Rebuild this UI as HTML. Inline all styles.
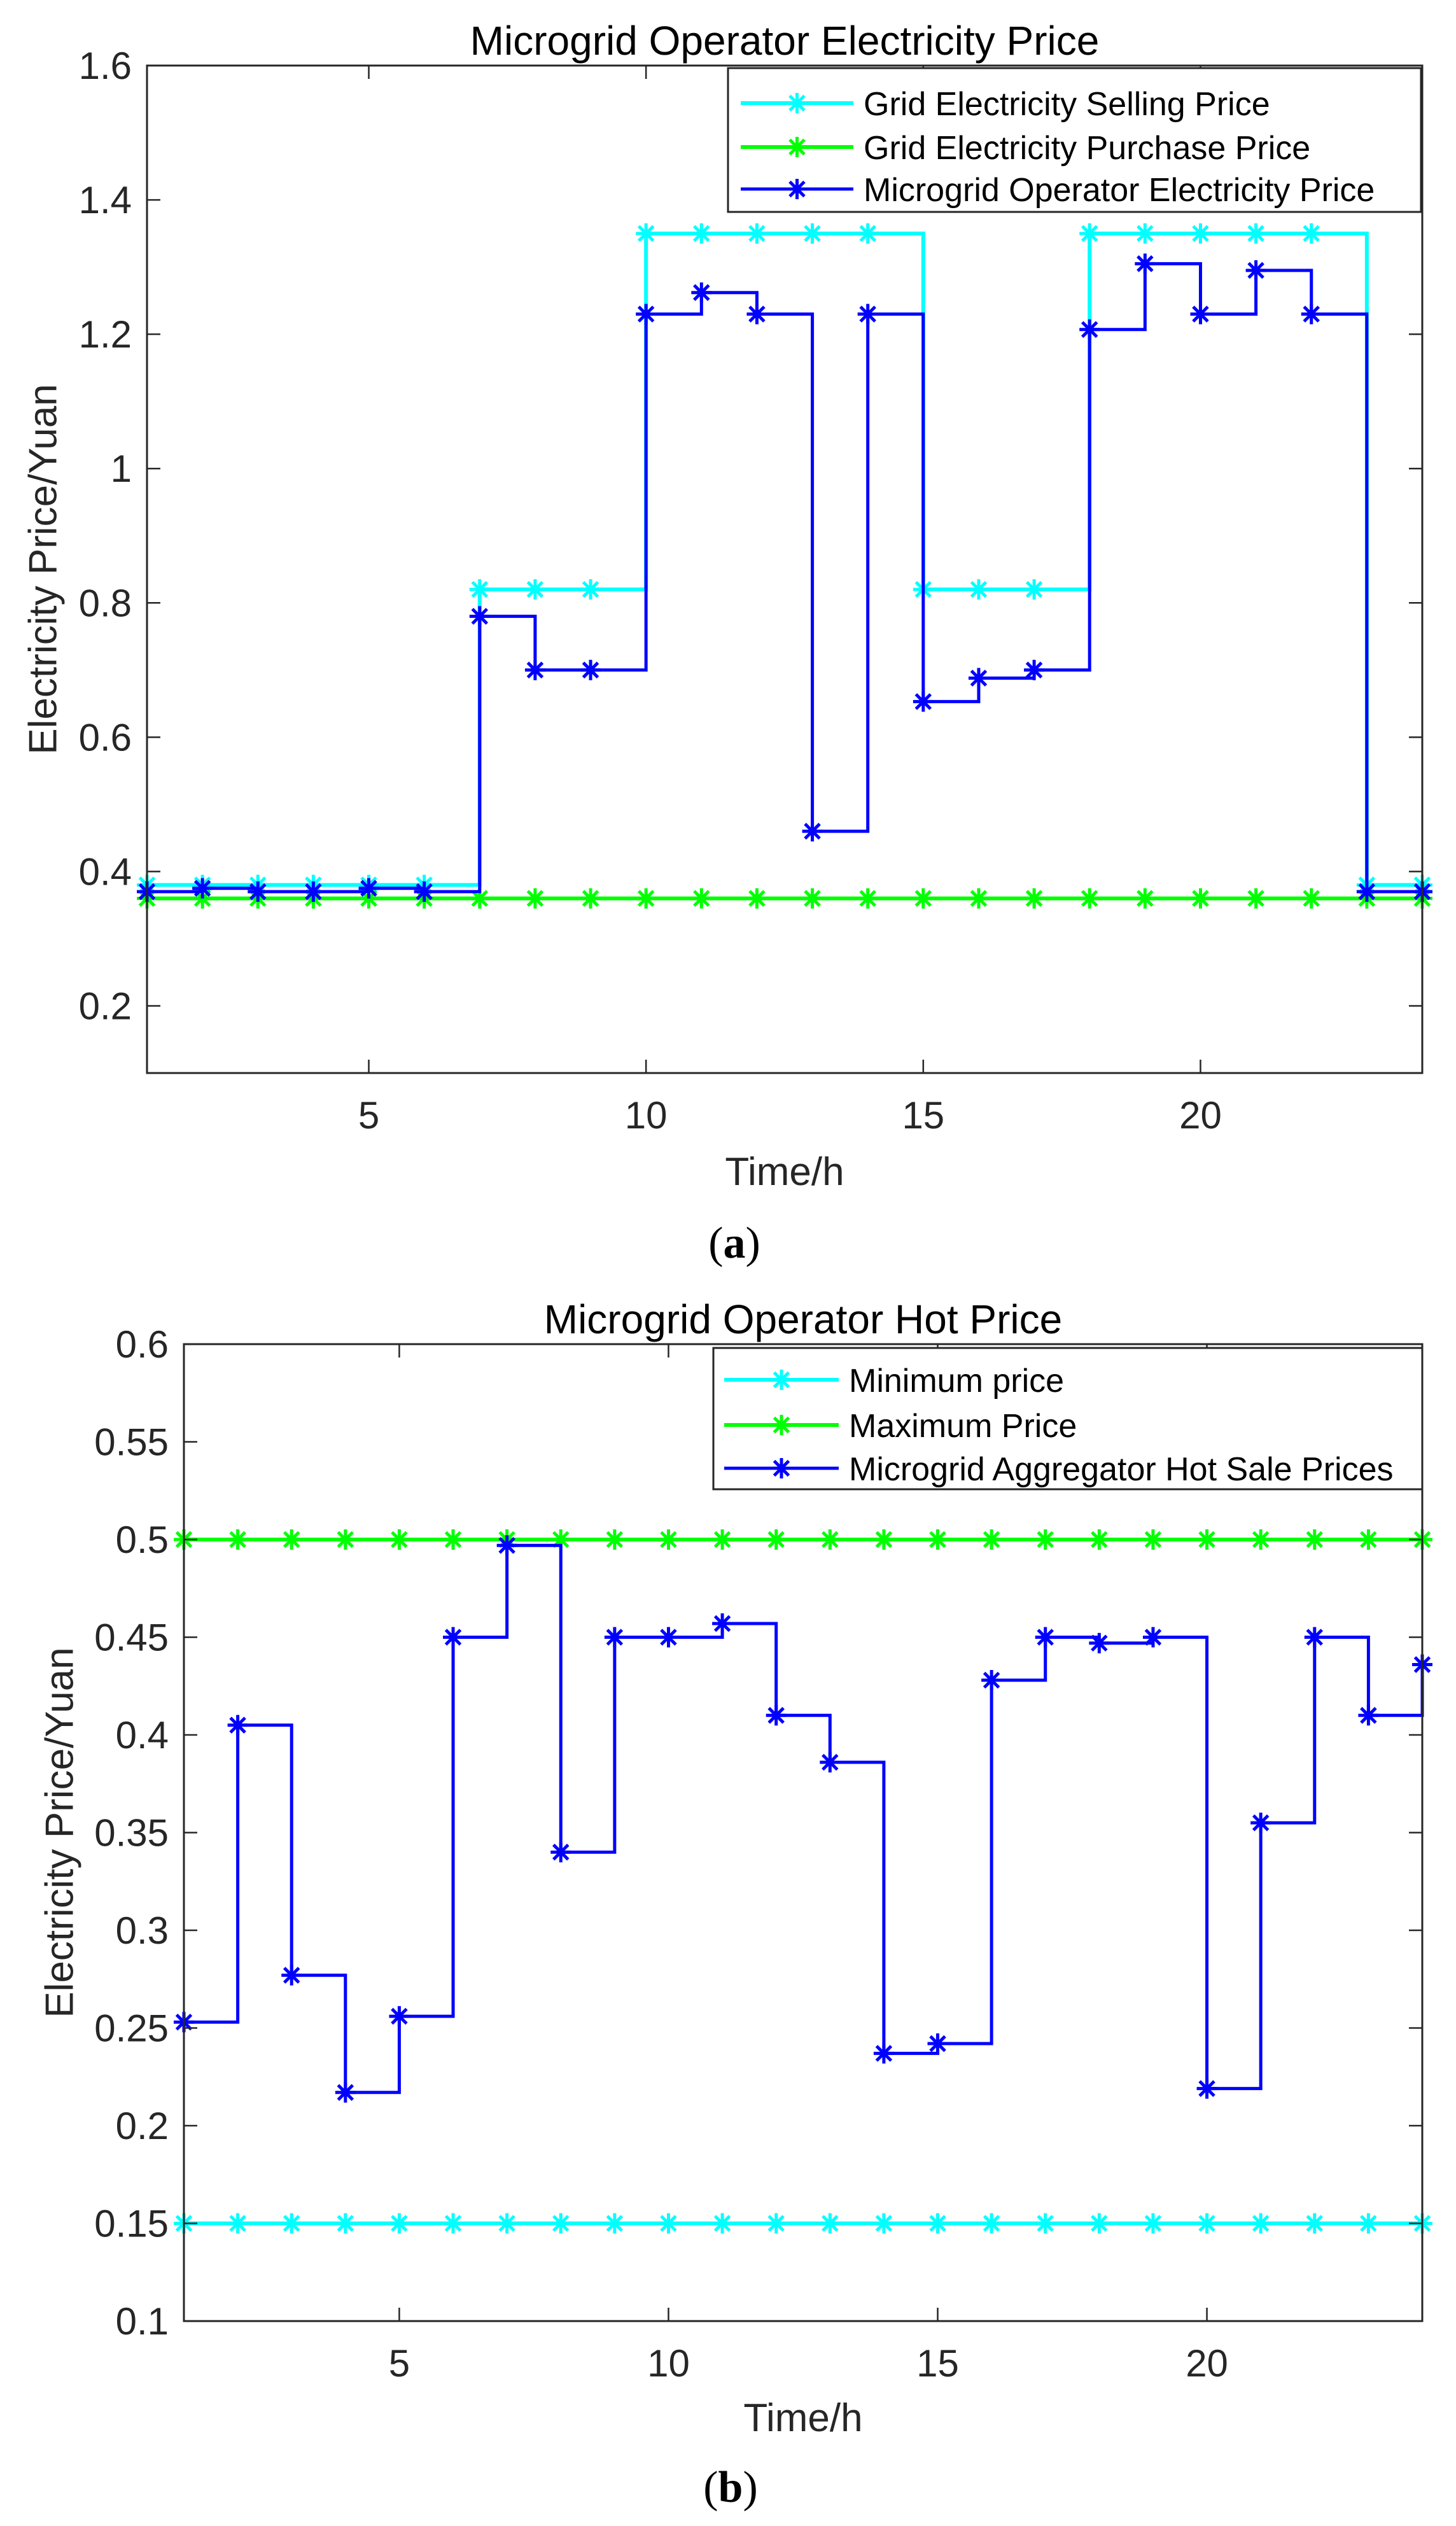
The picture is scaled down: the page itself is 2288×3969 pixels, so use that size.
<!DOCTYPE html>
<html>
<head>
<meta charset="utf-8">
<style>
html,body{margin:0;padding:0;background:#fff;}
svg{display:block;}
text{font-family:"Liberation Sans",Arial,sans-serif;fill:#262626;}
</style>
</head>
<body>
<svg id="fig" width="2288" height="3969" viewBox="0 0 2288 3969" xmlns="http://www.w3.org/2000/svg">
<rect x="0" y="0" width="2288" height="3969" fill="#fff"/>
<g id="chartA"></g>
<g id="chartB"></g>
</svg>
<script>
// ---- Chart (a) data ----
const hoursA = [1,2,3,4,5,6,7,8,9,10,11,12,13,14,15,16,17,18,19,20,21,22,23,24];
const gridSellA = [0.38,0.38,0.38,0.38,0.38,0.38,0.82,0.82,0.82,1.35,1.35,1.35,1.35,1.35,0.82,0.82,0.82,1.35,1.35,1.35,1.35,1.35,0.38,0.38];
const gridBuyA = [0.36,0.36,0.36,0.36,0.36,0.36,0.36,0.36,0.36,0.36,0.36,0.36,0.36,0.36,0.36,0.36,0.36,0.36,0.36,0.36,0.36,0.36,0.36,0.36];
const operatorA = [0.37,0.375,0.37,0.37,0.375,0.37,0.78,0.70,0.70,1.23,1.262,1.23,0.46,1.23,0.653,0.688,0.70,1.207,1.305,1.23,1.295,1.23,0.37,0.37];
const yTicksA = [0.2,0.4,0.6,0.8,1,1.2,1.4,1.6];
const yTickLabelsA = ["0.2","0.4","0.6","0.8","1","1.2","1.4","1.6"];
const xTicksA = [5,10,15,20];
const legendA = ["Grid Electricity Selling Price","Grid Electricity Purchase Price","Microgrid Operator Electricity Price"];

// ---- Chart (b) data ----
const hoursB = [1,2,3,4,5,6,7,8,9,10,11,12,13,14,15,16,17,18,19,20,21,22,23,24];
const minPriceB = [0.15,0.15,0.15,0.15,0.15,0.15,0.15,0.15,0.15,0.15,0.15,0.15,0.15,0.15,0.15,0.15,0.15,0.15,0.15,0.15,0.15,0.15,0.15,0.15];
const maxPriceB = [0.5,0.5,0.5,0.5,0.5,0.5,0.5,0.5,0.5,0.5,0.5,0.5,0.5,0.5,0.5,0.5,0.5,0.5,0.5,0.5,0.5,0.5,0.5,0.5];
const hotPriceB = [0.253,0.405,0.277,0.217,0.256,0.45,0.497,0.34,0.45,0.45,0.457,0.41,0.386,0.237,0.242,0.428,0.45,0.447,0.45,0.219,0.355,0.45,0.41,0.436];
const yTicksB = [0.1,0.15,0.2,0.25,0.3,0.35,0.4,0.45,0.5,0.55,0.6];
const yTickLabelsB = ["0.1","0.15","0.2","0.25","0.3","0.35","0.4","0.45","0.5","0.55","0.6"];
const xTicksB = [5,10,15,20];
const legendB = ["Minimum price","Maximum Price","Microgrid Aggregator Hot Sale Prices"];

const NS = "http://www.w3.org/2000/svg";
function mk(parent, tag, attrs, txt){
  const e = document.createElementNS(NS, tag);
  for (const k in attrs) e.setAttribute(k, attrs[k]);
  if (txt !== undefined) e.textContent = txt;
  parent.appendChild(e);
  return e;
}

function drawMarker(g, cx, cy, color){
  const r = 16, d = 11.5;
  const p = mk(g, "path", {d:`M${cx} ${cy-r}V${cy+r}M${cx-r} ${cy}H${cx+r}M${cx-d} ${cy-d}L${cx+d} ${cy+d}M${cx-d} ${cy+d}L${cx+d} ${cy-d}`, stroke:color, "stroke-width":5, fill:"none"});
  
  
}

function drawStairs(g, xs, ys, sx, sy, color, width, name){
  let d = "M" + sx(xs[0]) + " " + sy(ys[0]);
  for (let i = 1; i < xs.length; i++){
    d += " H" + sx(xs[i]) + " V" + sy(ys[i]);
  }
  const s = mk(g, "g", {});
  
  
  const p = mk(s, "path", {d:d, stroke:color, "stroke-width":width, fill:"none", "stroke-linejoin":"miter"});
  
  
  for (let i = 0; i < xs.length; i++) drawMarker(s, sx(xs[i]), sy(ys[i]), color);
}

function drawChart(g, cfg){
  const {L,R,T,B,xmin,xmax,ymin,ymax} = cfg;
  const sx = v => L + (v - xmin) / (xmax - xmin) * (R - L);
  const sy = v => B - (v - ymin) / (ymax - ymin) * (B - T);
  // series
  cfg.series.forEach(s => drawStairs(g, cfg.xs, s.ys, sx, sy, s.color, s.w, s.name));
  // axes box
  const box = mk(g, "rect", {x:L, y:T, width:R-L, height:B-T, fill:"none", stroke:"#262626", "stroke-width":3});
  
  
  // x ticks
  cfg.xTicks.forEach(t => {
    const x = sx(t);
    const tk = mk(g, "path", {d:`M${x} ${B}V${B-21}M${x} ${T}V${T+21}`, stroke:"#262626", "stroke-width":2.5});
    
    
    const lb = mk(g, "text", {x:x, y:cfg.xLabelY, "font-size":60, "text-anchor":"middle"}, String(t));
    
    
  });
  // y ticks
  cfg.yTicks.forEach((t, i) => {
    const y = sy(t);
    const tk = mk(g, "path", {d:`M${L} ${y}H${L+21}M${R} ${y}H${R-21}`, stroke:"#262626", "stroke-width":2.5});
    
    
    const lb = mk(g, "text", {x:L-24, y:y+21, "font-size":60, "text-anchor":"end"}, cfg.yTickLabels[i]);
    
    
  });
  // title
  const ti = mk(g, "text", {x:(L+R)/2, y:cfg.titleY, "font-size":64, "text-anchor":"middle", style:"fill:#000"}, cfg.title);
  
  
  // x axis title
  const xt = mk(g, "text", {x:(L+R)/2, y:cfg.xTitleY, "font-size":62, "text-anchor":"middle"}, "Time/h");
  
  
  // y axis title
  const yt = mk(g, "text", {x:0, y:0, "font-size":62, "text-anchor":"middle", "dominant-baseline":"central", transform:`translate(${cfg.yTitleX},${(T+B)/2}) rotate(-90)`}, "Electricity Price/Yuan");
  
  
  // legend
  const lg = mk(g, "g", {});
  
  
  const lb = cfg.legendBox;
  mk(lg, "rect", {x:lb.x, y:lb.y, width:lb.w, height:lb.h, fill:"#fff", stroke:"#262626", "stroke-width":3});
  cfg.legend.forEach((name, i) => {
    const ry = lb.rows[i];
    const e = mk(lg, "g", {});
    
    
    mk(e, "path", {d:`M${lb.l1} ${ry}H${lb.l2}`, stroke:cfg.series[i].color, "stroke-width":cfg.series[i].w});
    drawMarker(e, (lb.l1+lb.l2)/2, ry, cfg.series[i].color);
    mk(e, "text", {x:lb.tx, y:ry+19, "font-size":52, style:"fill:#000"}, name);
  });
  // caption
  const cp = mk(g, "text", {x:cfg.capX, y:cfg.capY, "font-size":70, "text-anchor":"middle", style:"fill:#000;font-family:'Liberation Serif',serif"});
  
  
  mk(cp, "tspan", {}, "(");
  mk(cp, "tspan", {"font-weight":"bold"}, cfg.cap);
  mk(cp, "tspan", {}, ")");
}

drawChart(document.getElementById("chartA"), {
  L:231, R:2235, T:103, B:1686, xmin:1, xmax:24, ymin:0.1, ymax:1.6,
  xs:hoursA,
  series:[
    {ys:gridSellA, color:"#00ffff", w:6, name:"grid-selling-price-series"},
    {ys:gridBuyA, color:"#00ff00", w:6, name:"grid-purchase-price-series"},
    {ys:operatorA, color:"#0000ff", w:5, name:"operator-price-series"}
  ],
  xTicks:xTicksA, yTicks:yTicksA, yTickLabels:yTickLabelsA,
  xLabelY:1773, title:"Microgrid Operator Electricity Price", titleY:86,
  xTitleY:1862, yTitleX:68,
  legend:legendA,
  legendBox:{x:1144, y:107, w:1089, h:226, rows:[162,231,297], l1:1164, l2:1341, tx:1357},
  cap:"a", capX:1154, capY:1976
});

drawChart(document.getElementById("chartB"), {
  L:289, R:2235, T:2112, B:3647, xmin:1, xmax:24, ymin:0.1, ymax:0.6,
  xs:hoursB,
  series:[
    {ys:minPriceB, color:"#00ffff", w:6, name:"minimum-price-series"},
    {ys:maxPriceB, color:"#00ff00", w:6, name:"maximum-price-series"},
    {ys:hotPriceB, color:"#0000ff", w:5, name:"hot-sale-price-series"}
  ],
  xTicks:xTicksB, yTicks:yTicksB, yTickLabels:yTickLabelsB,
  xLabelY:3734, title:"Microgrid Operator Hot Price", titleY:2095,
  xTitleY:3820, yTitleX:94,
  legend:legendB,
  legendBox:{x:1121, y:2118, w:1114, h:222, rows:[2168,2239,2307], l1:1138, l2:1318, tx:1334},
  cap:"b", capX:1148, capY:3931
});
</script>
</body>
</html>
